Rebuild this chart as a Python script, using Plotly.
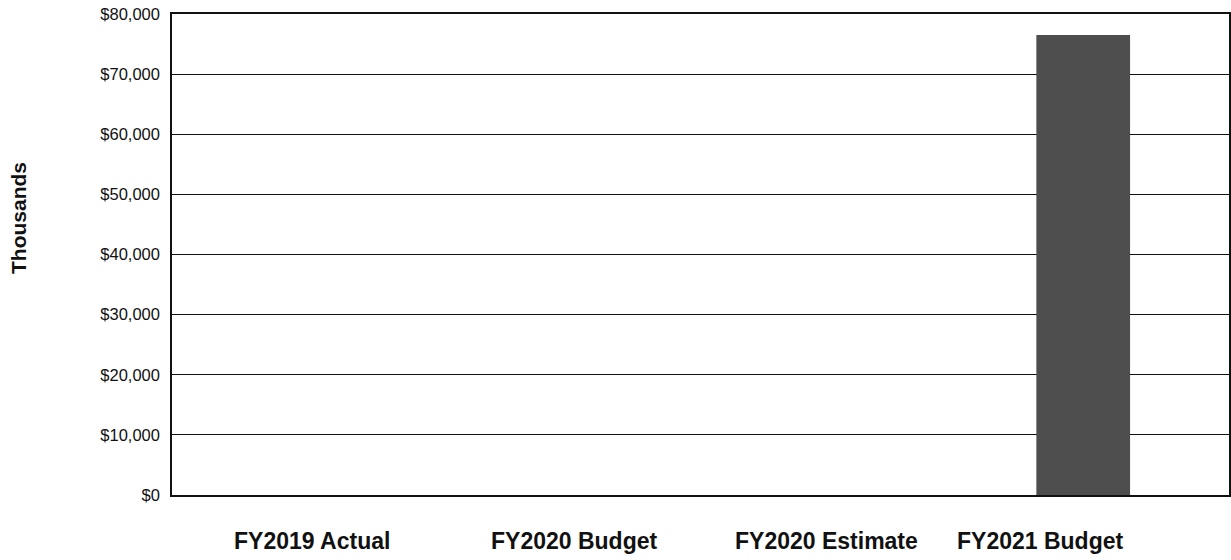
import plotly.graph_objects as go

categories = ["FY2019 Actual", "FY2020 Budget", "FY2020 Estimate", "FY2021 Budget"]
values = [0, 0, 0, 76500]
y_ticks = [0, 10000, 20000, 30000, 40000, 50000, 60000, 70000, 80000]
y_tick_labels = ["$0", "$10,000", "$20,000", "$30,000", "$40,000", "$50,000", "$60,000", "$70,000", "$80,000"]
label_px = [312, 574, 826, 1040]  # pixel centres of category labels in the page

W, H = 1231, 560
PLOT_L, PLOT_R, PLOT_T, PLOT_B = 172, 1229, 14, 495
ML, MR, MT, MB = PLOT_L, W - PLOT_R, PLOT_T, H - PLOT_B
PW = W - ML - MR
PH = H - MT - MB

fig = go.Figure()
fig.add_trace(go.Bar(
    x=list(range(len(categories))), y=values,
    marker=dict(color="#4e4e4e", line=dict(width=0)),
    width=0.36,
))

fig.update_layout(
    width=W, height=H,
    margin=dict(l=ML, r=MR, t=MT, b=MB, autoexpand=False),
    paper_bgcolor="white", plot_bgcolor="white",
    showlegend=False,
    font=dict(family="Liberation Sans, Arial, sans-serif", color="#111111"),
)
fig.update_xaxes(
    range=[-0.5, 3.56], showticklabels=False, showgrid=False, zeroline=False,
    showline=True, linecolor="#111111", linewidth=1.5, mirror=True,
)
fig.update_yaxes(
    range=[0, 80000], tickvals=y_ticks, ticktext=y_tick_labels,
    tickfont=dict(size=16.5, color="#111111"), ticklabelstandoff=7,
    ticklabeloverflow="allow",
    showgrid=True, gridcolor="#111111", gridwidth=1.2, zeroline=False,
    showline=True, linecolor="#111111", linewidth=1.5, mirror=True,
)
for cat, px in zip(categories, label_px):
    fig.add_annotation(text=f"<b>{cat}</b>", x=(px - PLOT_L) / PW, y=-(541 - PLOT_B) / PH,
                       xref="paper", yref="paper",
                       showarrow=False, xanchor="center", yanchor="middle",
                       font=dict(size=23, color="#111111"))
fig.add_annotation(text="<b>Thousands</b>", x=(18 - PLOT_L) / PW, y=(PLOT_B - 218) / PH,
                   xref="paper", yref="paper", xanchor="center", yanchor="middle",
                   showarrow=False, textangle=-90, font=dict(size=21, color="#111111"))
fig.write_html("out.html", config={"displayModeBar": False},
               post_script="document.body.style.margin='0';document.body.style.overflow='hidden';")
